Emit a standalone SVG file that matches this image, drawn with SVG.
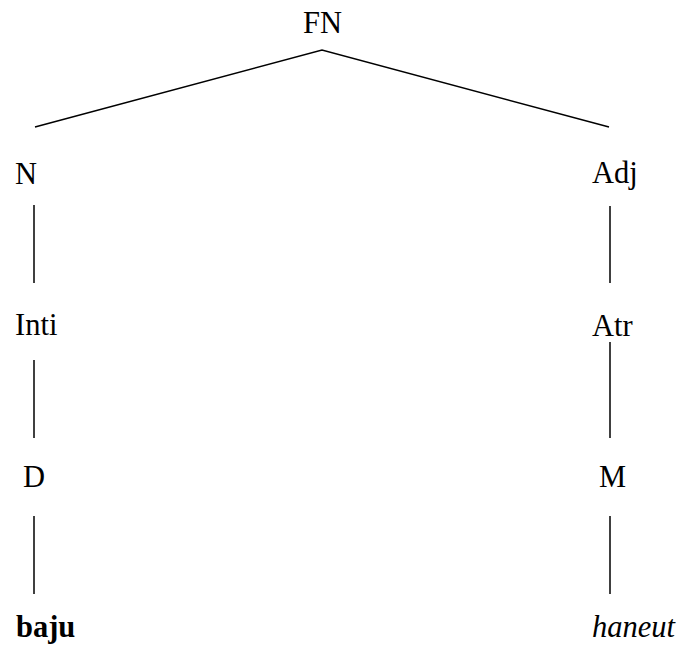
<svg xmlns="http://www.w3.org/2000/svg" width="683" height="646" viewBox="0 0 683 646">
<style>
text{font-family:"Liberation Serif","Times New Roman",serif;font-size:30.5px;fill:#000}
.b{font-weight:bold}
.i{font-style:italic}
line,polyline{stroke:#000;stroke-width:1.5;fill:none}
</style>
<rect width="683" height="646" fill="#fff"/>
<g id="connectors">
<polyline points="35,127 322,50 609,127"/>
<line x1="34" y1="205" x2="34" y2="283"/>
<line x1="34" y1="360" x2="34" y2="438"/>
<line x1="34" y1="516" x2="34" y2="594"/>
<line x1="610" y1="206" x2="610" y2="283"/>
<line x1="610" y1="342" x2="610" y2="438"/>
<line x1="610" y1="516" x2="610" y2="594"/>
</g>
<g id="FN"><text x="303" y="33">FN</text></g>
<g id="N"><text x="15" y="184">N</text></g>
<g id="Adj"><text x="592" y="183">Adj</text></g>
<g id="Inti"><text x="15" y="335">Inti</text></g>
<g id="Atr"><text x="592" y="336">Atr</text></g>
<g id="D"><text x="23" y="487">D</text></g>
<g id="M"><text x="599" y="487">M</text></g>
<g id="baju"><text class="b" x="16" y="637">baju</text></g>
<g id="haneut"><text class="i" x="592" y="637">haneut</text></g>
</svg>
